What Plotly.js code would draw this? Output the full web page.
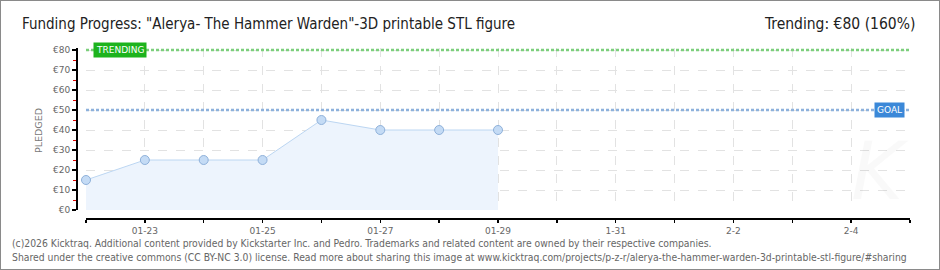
<!DOCTYPE html>
<html>
<head>
<meta charset="utf-8">
<script src="https://cdn.plot.ly/plotly-3.0.1.min.js"></script>
<style>
  html, body { margin: 0; padding: 0; background: #fff; }
  #frame { width: 938px; height: 268px; border: 1px solid #8a8a8a; overflow: hidden; }
  #chart { width: 938px; height: 268px; }
</style>
</head>
<body>
<div id="frame"><div id="chart"></div></div>
<script>
// ---- data ----
const dates   = ['2026-01-22','2026-01-23','2026-01-24','2026-01-25','2026-01-26','2026-01-27','2026-01-28','2026-01-29'];
const pledged = [15, 25, 25, 25, 45, 40, 40, 40];
const goal = 50;
const trending = 80;
const xRange = ['2026-01-22','2026-02-05'];
const yRange = [0, 81];
const tickDates  = ['2026-01-22','2026-01-23','2026-01-24','2026-01-25','2026-01-26','2026-01-27','2026-01-28','2026-01-29','2026-01-30','2026-01-31','2026-02-01','2026-02-02','2026-02-03','2026-02-04','2026-02-05'];
const tickLabels = ['','01-23','','01-25','','01-27','','01-29','','1-31','','2-2','','2-4',''];
const titleText = 'Funding Progress: "Alerya- The Hammer Warden"-3D printable STL figure';
const trendText = 'Trending: €80 (160%)';
const footer1 = '(c)2026 Kicktraq. Additional content provided by Kickstarter Inc. and Pedro. Trademarks and related content are owned by their respective companies.';
const footer2 = 'Shared under the creative commons (CC BY-NC 3.0) license. Read more about sharing this image at www.kicktraq.com/projects/p-z-r/alerya-the-hammer-warden-3d-printable-stl-figure/#sharing';

const narrow = '"Liberation Sans Narrow", "DejaVu Sans Condensed", sans-serif';
const small = '"DejaVu Sans", sans-serif';

const trace = {
  x: dates, y: pledged, type: 'scatter', mode: 'lines+markers',
  fill: 'tozeroy', fillcolor: '#edf4fd',
  line: { color: '#bcd6f2', width: 1 },
  marker: { size: 9, color: '#c4dbf5', line: { color: '#8fb1da', width: 1 } },
  cliponaxis: false, hoverinfo: 'skip'
};

const layout = {
  width: 938, height: 268,
  margin: { l: 69, r: 29, t: 47, b: 47, pad: 0 },
  paper_bgcolor: '#fff', plot_bgcolor: '#fff',
  showlegend: false,
  xaxis: {
    type: 'date', range: xRange, domain: [0.019048, 1],
    anchor: 'free', position: 0.01437,
    tickmode: 'array', tickvals: tickDates, ticktext: tickLabels,
    ticks: 'outside', ticklen: 3, tickwidth: 1.5, tickcolor: '#000',
    showline: true, linecolor: '#000', linewidth: 2,
    showgrid: true, gridcolor: '#e2e2e2', griddash: 'dash', gridwidth: 1,
    zeroline: false,
    tickfont: { family: small, size: 9, color: '#666' }
  },
  yaxis: {
    range: yRange, domain: [0.068966, 1],
    anchor: 'free', position: 0.008333,
    tickmode: 'linear', dtick: 10, tick0: 0, tickprefix: '€',
    ticks: 'outside', ticklen: 4, tickwidth: 1.5, tickcolor: '#000',
    minor: { dtick: 5, tick0: 0, ticks: 'outside', ticklen: 3, tickwidth: 1, tickcolor: '#e00000', showgrid: false },
    showline: true, linecolor: '#000', linewidth: 2,
    showgrid: true, gridcolor: '#e2e2e2', griddash: 'dash', gridwidth: 1,
    zeroline: false,
    tickfont: { family: small, size: 9, color: '#666' }
  },
  shapes: [
    { type: 'line', xref: 'x domain', yref: 'y', x0: 0, x1: 1, y0: trending, y1: trending,
      line: { color: '#7ccf7c', width: 2.5, dash: '3px,2px' }, layer: 'above' },
    { type: 'line', xref: 'x domain', yref: 'y', x0: 0, x1: 1, y0: goal, y1: goal,
      line: { color: '#8db1dc', width: 2.5, dash: '3px,2px' }, layer: 'above' }
  ],
  annotations: [
    { xref: 'x domain', yref: 'y', x: 0.0085, y: trending, xanchor: 'left', yanchor: 'middle',
      text: 'TRENDING', showarrow: false, bgcolor: '#1db31d', borderpad: 2,
      font: { family: small, size: 9, color: '#fff' } },
    { xref: 'x domain', yref: 'y', x: 0.9939, y: goal, xanchor: 'right', yanchor: 'middle',
      text: 'GOAL', showarrow: false, bgcolor: '#3b88d8', borderpad: 2,
      font: { family: small, size: 9, color: '#fff' } },
    { xref: 'paper', yref: 'paper', x: -0.0595, y: 1.1379, xanchor: 'left', yanchor: 'middle',
      text: titleText, showarrow: false, font: { family: narrow, size: 15, color: '#222' } },
    { xref: 'paper', yref: 'paper', x: 1.00833, y: 1.1379, xanchor: 'right', yanchor: 'middle',
      text: trendText, showarrow: false, font: { family: narrow, size: 15.5, color: '#222' } },
    { xref: 'paper', yref: 'paper', x: -0.0381, y: 0.5287, xanchor: 'center', yanchor: 'middle',
      text: 'PLEDGED', textangle: -90, showarrow: false, font: { family: small, size: 9.5, color: '#777' } },
    { xref: 'paper', yref: 'paper', x: 0.9643, y: 0.2874, xanchor: 'center', yanchor: 'middle',
      text: '<i>K</i>', showarrow: false, font: { family: '"DejaVu Sans", sans-serif', size: 80, color: 'rgba(0,0,0,0.025)' } },
    { xref: 'paper', yref: 'paper', x: -0.0714, y: -0.1207, xanchor: 'left', yanchor: 'middle',
      text: footer1, showarrow: false, font: { family: narrow, size: 10.3, color: '#666' } },
    { xref: 'paper', yref: 'paper', x: -0.0714, y: -0.2011, xanchor: 'left', yanchor: 'middle',
      text: footer2, showarrow: false, font: { family: narrow, size: 10.3, color: '#666' } }
  ]
};

Plotly.newPlot('chart', [trace], layout, { displayModeBar: false, staticPlot: true });
</script>
</body>
</html>
